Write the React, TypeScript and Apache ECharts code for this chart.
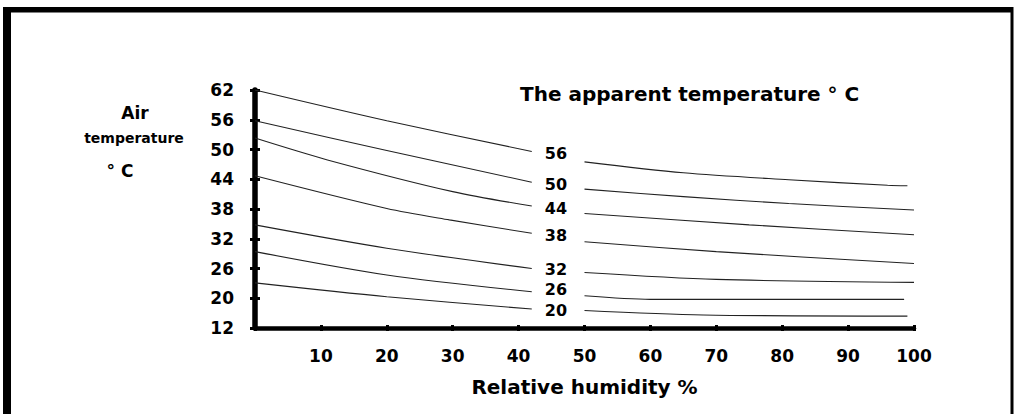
import React, { useEffect, useRef } from "react";
import * as echarts from "echarts";

// Air temperature tick labels (evenly spaced on the axis)
const yTickLabels = [12, 20, 26, 32, 38, 44, 50, 56, 62];
// Apparent temperature labels for each curve
const apparentLabels = ["56", "50", "44", "38", "32", "26", "20"];

// [relative humidity %, air temperature °C]
const curve56Low = [[0, 62], [20, 55.8], [42, 49.6]];
const curve56High = [[50, 47.5], [65, 45.3], [81, 43.9], [96, 42.8], [99, 42.7]];
const curve50Low = [[0, 55.8], [20, 49.8], [42, 43.4]];
const curve50High = [[50, 42.0], [65, 40.5], [81, 39.1], [100, 37.8]];
const curve44Low = [[0, 52.3], [11, 47.9], [30, 41.5], [42, 38.6]];
const curve44High = [[50, 37.1], [75, 34.8], [100, 32.8]];
const curve38Low = [[0, 44.7], [20, 38.1], [29.5, 35.8], [42, 33.1]];
const curve38High = [[50, 31.4], [70, 29.4], [100, 27.0]];
const curve32Low = [[0, 34.8], [20, 30.1], [42, 26.0]];
const curve32High = [[50, 25.2], [70, 23.8], [100, 23.2]];
const curve26Low = [[0, 29.4], [20, 24.7], [42, 21.3]];
const curve26High = [[50, 20.5], [60, 19.7], [98.5, 19.7]];
const curve20Low = [[0, 23.1], [20, 20.3], [42, 17.1]];
const curve20High = [[50, 16.7], [68, 15.5], [99, 15.2]];

const lowSegments = [curve56Low, curve50Low, curve44Low, curve38Low, curve32Low, curve26Low, curve20Low];
const highSegments = [curve56High, curve50High, curve44High, curve38High, curve32High, curve26High, curve20High];
const labelOffsets = [2, 2, 2, 2, 1, -2, 1];

const FONT = "DejaVu Sans";

// map a temperature onto the evenly spaced tick index scale
function toIndex(t: number): number {
  for (let i = 0; i < yTickLabels.length - 1; i++) {
    const a = yTickLabels[i];
    const b = yTickLabels[i + 1];
    if (t <= b || i === yTickLabels.length - 2) {
      return i + (t - a) / (b - a);
    }
  }
  return 0;
}

export default function App() {
  const ref = useRef<HTMLDivElement>(null);

  useEffect(() => {
    if (!ref.current) return;
    const chart = echarts.init(ref.current, undefined, { renderer: "svg" });
    const lineStyle = { color: "#222", width: 1.1 };
    const series: any[] = [];
    lowSegments.forEach((seg, i) => {
      series.push({
        type: "line",
        data: seg.map(([h, t]) => [h, toIndex(t)]),
        symbol: "none",
        smooth: 0.3,
        lineStyle,
        silent: true,
        endLabel: {
          show: true,
          formatter: apparentLabels[i],
          distance: 13,
          offset: [0, labelOffsets[i]],
          color: "#000",
          fontFamily: FONT,
          fontWeight: "bold",
          fontSize: 16,
          lineHeight: 16,
        },
      });
    });
    highSegments.forEach((seg) => {
      series.push({
        type: "line",
        data: seg.map(([h, t]) => [h, toIndex(t)]),
        symbol: "none",
        smooth: 0.3,
        lineStyle,
        silent: true,
      });
    });

    const labelStyle = {
      color: "#000",
      fontFamily: FONT,
      fontWeight: "bold" as const,
      fontSize: 17,
    };

    chart.setOption({
      animation: false,
      backgroundColor: "#fff",
      grid: { left: 255, right: 101, top: 90, bottom: 86, containLabel: false },
      xAxis: [
        {
          type: "value",
          min: 0,
          max: 100,
          interval: 10,
          position: "bottom",
          axisLine: { show: true, lineStyle: { color: "#000", width: 4.5 } },
          axisTick: { show: true, inside: false, length: 3, lineStyle: { color: "#000", width: 3 } },
          splitLine: { show: false },
          axisLabel: {
            ...labelStyle,
            margin: 19,
            formatter: (v: number) => (v === 0 ? "" : String(v)),
          },
          name: "Relative humidity %",
          nameLocation: "middle",
          nameGap: 49,
          nameTextStyle: { color: "#000", fontFamily: FONT, fontWeight: "bold", fontSize: 20 },
        },
        {
          type: "value",
          min: 0,
          max: 100,
          interval: 10,
          position: "bottom",
          axisLine: { show: false },
          axisTick: { show: true, inside: true, length: 3, lineStyle: { color: "#000", width: 3 } },
          splitLine: { show: false },
          axisLabel: { show: false },
        },
      ],
      yAxis: [
        {
          type: "value",
          min: 0,
          max: 8,
          interval: 1,
          position: "left",
          axisLine: { show: true, lineStyle: { color: "#000", width: 5.5 } },
          axisTick: { show: true, inside: false, length: 5, lineStyle: { color: "#000", width: 3 } },
          splitLine: { show: false },
          axisLabel: {
            ...labelStyle,
            margin: 21,
            formatter: (v: number) => String(yTickLabels[Math.round(v)] ?? ""),
          },
        },
        {
          type: "value",
          min: 0,
          max: 8,
          interval: 1,
          position: "left",
          axisLine: { show: false },
          axisTick: { show: true, inside: true, length: 5, lineStyle: { color: "#000", width: 3 } },
          splitLine: { show: false },
          axisLabel: { show: false },
        },
      ],
      series,
      graphic: [
        { type: "rect", shape: { x: 3, y: 7, width: 8, height: 407 }, style: { fill: "#000" } },
        { type: "rect", shape: { x: 3, y: 7, width: 1010, height: 5.5 }, style: { fill: "#000" } },
        { type: "rect", shape: { x: 1010.5, y: 7, width: 3, height: 407 }, style: { fill: "#000" } },
        {
          type: "text",
          left: 520,
          top: 84,
          style: { text: "The apparent temperature ° C", fill: "#000", font: `bold 20px '${FONT}'` },
        },
        {
          type: "text",
          x: 135,
          y: 113,
          style: { text: "Air", fill: "#000", font: `bold 17px '${FONT}'`, align: "center", verticalAlign: "middle" },
        },
        {
          type: "text",
          x: 134,
          y: 138,
          style: { text: "temperature", fill: "#000", font: `bold 14px '${FONT}'`, align: "center", verticalAlign: "middle" },
        },
        {
          type: "text",
          x: 120,
          y: 171,
          style: { text: "° C", fill: "#000", font: `bold 17px '${FONT}'`, align: "center", verticalAlign: "middle" },
        },
      ],
    });
    return () => chart.dispose();
  }, []);

  return (
    <div
      ref={ref}
      style={{ position: "fixed", left: 0, top: 0, width: 1015, height: 414 }}
    />
  );
}
